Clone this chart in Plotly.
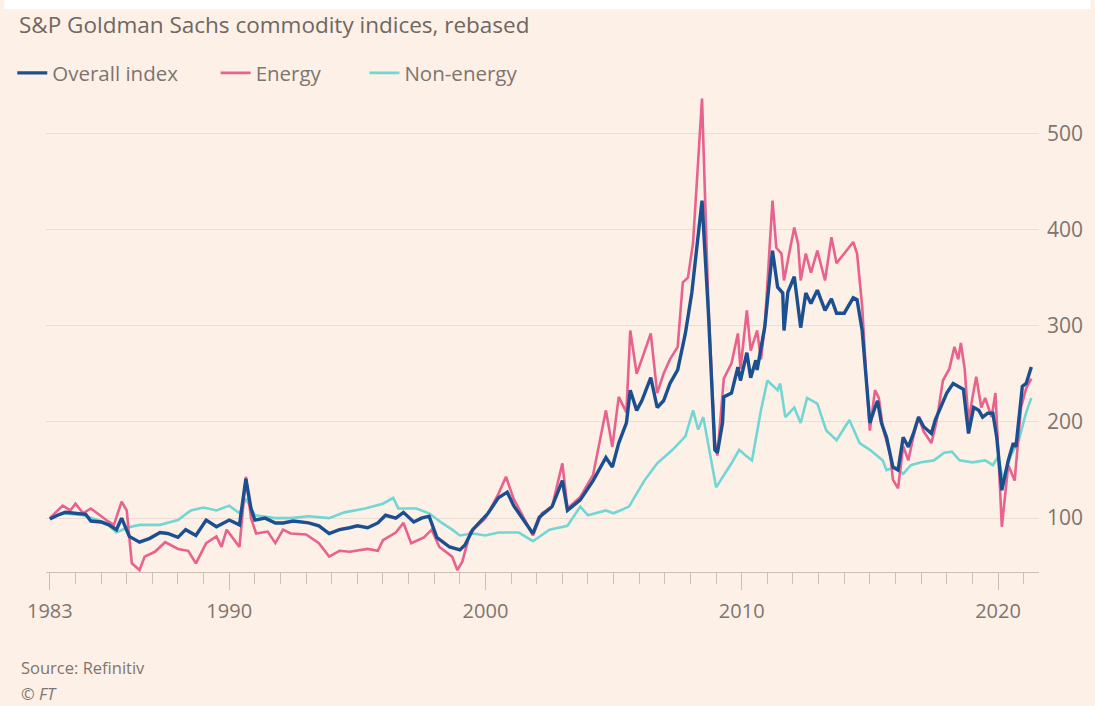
import plotly.graph_objects as go

# S&P Goldman Sachs commodity indices, rebased (1983 = 100)
overall_year = [
    1983.0, 1983.3, 1983.6, 1984.0, 1984.4, 1984.6, 1985.0, 1985.3, 1985.6, 1985.8,
    1986.1, 1986.5, 1986.9, 1987.3, 1987.6, 1988.0, 1988.3, 1988.7, 1989.1, 1989.5,
    1990.0, 1990.4, 1990.65, 1990.85, 1991.0, 1991.4, 1991.8, 1992.1, 1992.5, 1993.1,
    1993.5, 1993.9, 1994.3, 1994.7, 1995.0, 1995.4, 1995.8, 1996.1, 1996.5, 1996.8,
    1997.2, 1997.5, 1997.8, 1998.1, 1998.6, 1999.0, 1999.2, 1999.5, 2000.1, 2000.5,
    2000.85, 2001.1, 2001.5, 2001.85, 2002.1, 2002.6, 2003.0, 2003.2, 2003.7, 2004.2,
    2004.7, 2004.95, 2005.2, 2005.5, 2005.65, 2005.9, 2006.1, 2006.45, 2006.7, 2006.95,
    2007.2, 2007.5, 2007.8, 2008.05, 2008.45, 2008.7, 2008.95, 2009.05, 2009.25, 2009.3,
    2009.6, 2009.85, 2009.95, 2010.2, 2010.35, 2010.55, 2010.6, 2010.9, 2011.2, 2011.4,
    2011.6, 2011.65, 2011.8, 2012.05, 2012.3, 2012.5, 2012.7, 2012.95, 2013.25, 2013.5,
    2013.7, 2014.0, 2014.35, 2014.5, 2014.7, 2014.85, 2015.0, 2015.2, 2015.3, 2015.45,
    2015.65, 2015.9, 2016.1, 2016.3, 2016.5, 2016.7, 2016.9, 2017.1, 2017.4, 2017.55,
    2017.85, 2018.0, 2018.25, 2018.45, 2018.65, 2018.85, 2019.05, 2019.25, 2019.4, 2019.6,
    2019.8, 2019.95, 2020.15, 2020.4, 2020.6, 2020.7, 2020.95, 2021.1, 2021.3,
]
overall_value = [
    99, 103, 106, 105, 104, 97, 96, 93, 88, 100,
    81, 75, 79, 85, 84, 80, 88, 82, 98, 91,
    98, 93, 141, 110, 98, 100, 95, 95, 97, 95,
    92, 84, 88, 90, 92, 90, 95, 103, 100, 106,
    96, 100, 102, 80, 70, 67, 72, 88, 105, 121,
    127, 113, 98, 84, 101, 112, 139, 108, 119, 139,
    163, 153, 178, 199, 233, 212, 222, 246, 215, 222,
    240, 254, 292, 334, 430, 313, 171, 168, 199, 226,
    230, 257, 243, 272, 246, 264, 254, 299, 378, 340,
    334, 295, 335, 351, 298, 334, 323, 337, 316, 328,
    313, 313, 329, 327, 295, 246, 199, 215, 222, 199,
    184, 153, 150, 184, 174, 188, 205, 195, 188, 202,
    222, 230, 240, 237, 234, 188, 215, 212, 205, 209,
    209, 184, 129, 160, 178, 174, 237, 240, 257,
]

energy_year = [
    1983.0, 1983.5, 1983.8, 1984.0, 1984.3, 1984.6, 1985.2, 1985.5, 1985.8, 1986.0,
    1986.2, 1986.5, 1986.7, 1987.1, 1987.5, 1988.0, 1988.4, 1988.7, 1989.1, 1989.5,
    1989.7, 1989.9, 1990.4, 1990.65, 1990.85, 1991.05, 1991.5, 1991.8, 1992.1, 1992.4,
    1993.0, 1993.5, 1993.9, 1994.3, 1994.7, 1995.4, 1995.8, 1996.0, 1996.5, 1996.8,
    1997.1, 1997.6, 1997.9, 1998.2, 1998.7, 1998.9, 1999.1, 1999.4, 2000.0, 2000.5,
    2000.8, 2001.1, 2001.5, 2001.85, 2002.2, 2002.6, 2003.0, 2003.2, 2003.7, 2004.2,
    2004.7, 2004.95, 2005.2, 2005.5, 2005.65, 2005.9, 2006.1, 2006.45, 2006.7, 2006.95,
    2007.2, 2007.5, 2007.7, 2007.9, 2008.1, 2008.45, 2008.7, 2008.95, 2009.05, 2009.3,
    2009.6, 2009.85, 2009.95, 2010.2, 2010.35, 2010.6, 2010.75, 2010.9, 2011.2, 2011.35,
    2011.55, 2011.65, 2011.85, 2012.05, 2012.2, 2012.3, 2012.5, 2012.7, 2012.95, 2013.25,
    2013.5, 2013.7, 2014.0, 2014.35, 2014.5, 2014.7, 2014.85, 2015.0, 2015.2, 2015.35,
    2015.5, 2015.8, 2015.9, 2016.1, 2016.3, 2016.5, 2016.7, 2016.9, 2017.1, 2017.4,
    2017.6, 2017.85, 2018.1, 2018.3, 2018.45, 2018.55, 2018.7, 2018.85, 2019.0, 2019.15,
    2019.35, 2019.5, 2019.75, 2019.9, 2020.15, 2020.4, 2020.65, 2020.9, 2021.1, 2021.3,
]
energy_value = [
    100, 113, 108, 115, 105, 110, 98, 93, 117, 108,
    53, 46, 60, 65, 75, 68, 66, 53, 74, 81,
    70, 88, 70, 143, 100, 84, 86, 74, 88, 84,
    83, 74, 60, 66, 65, 68, 66, 77, 85, 95,
    74, 80, 88, 70, 60, 46, 55, 85, 100, 125,
    143, 120, 100, 82, 105, 112, 157, 110, 122, 145,
    212, 174, 226, 210, 295, 250, 265, 292, 230, 250,
    265, 278, 345, 350, 386, 536, 320, 180, 165, 245,
    261, 292, 255, 316, 274, 295, 265, 300, 430, 381,
    375, 347, 375, 402, 385, 347, 375, 355, 378, 347,
    392, 365, 375, 387, 375, 320, 250, 191, 233, 225,
    195, 165, 140, 131, 175, 160, 185, 205, 190, 178,
    200, 243, 255, 278, 265, 282, 255, 200, 225, 247,
    215, 225, 205, 230, 91, 155, 139, 215, 235, 245,
]

non_energy_year = [
    1983.0, 1983.5, 1984.3, 1985.2, 1985.6, 1986.0, 1986.5, 1987.3, 1988.0, 1988.5,
    1989.0, 1989.5, 1990.0, 1990.4, 1990.65, 1991.0, 1991.8, 1992.4, 1993.1, 1993.9,
    1994.5, 1995.3, 1996.0, 1996.4, 1996.6, 1997.3, 1997.8, 1998.3, 1998.7, 1999.0,
    1999.5, 2000.0, 2000.5, 2001.3, 2001.85, 2002.5, 2003.2, 2003.7, 2004.0, 2004.7,
    2005.0, 2005.6, 2006.2, 2006.7, 2007.3, 2007.8, 2008.1, 2008.3, 2008.5, 2008.8,
    2009.0, 2009.6, 2009.9, 2010.2, 2010.4, 2010.75, 2011.0, 2011.4, 2011.5, 2011.7,
    2012.05, 2012.3, 2012.55, 2012.95, 2013.3, 2013.7, 2014.2, 2014.6, 2015.0, 2015.5,
    2015.65, 2016.0, 2016.3, 2016.6, 2017.0, 2017.5, 2017.9, 2018.2, 2018.5, 2019.0,
    2019.5, 2019.8, 2020.0, 2020.2, 2020.5, 2020.8, 2021.1, 2021.3,
]
non_energy_value = [
    100, 105, 103, 95, 85, 90, 93, 93, 98, 108,
    111, 108, 113, 105, 120, 103, 100, 100, 102, 100,
    106, 110, 115, 121, 110, 110, 105, 95, 88, 82,
    84, 82, 85, 85, 76, 88, 92, 112, 103, 108,
    105, 112, 139, 157, 171, 185, 212, 192, 205, 160,
    132, 157, 171, 164, 160, 212, 243, 233, 240, 205,
    215, 199, 225, 219, 191, 181, 202, 178, 171, 160,
    150, 153, 146, 155, 158, 160, 168, 169, 160, 158,
    160, 155, 164, 140, 165, 180, 210, 225,
]

year_ticks = [1983, 1990, 2000, 2010, 2020]
year_labels = ["1983", "1990", "2000", "2010", "2020"]
value_ticks = [100, 200, 300, 400, 500]

BG = "#fdf0e6"
FONT = "Open Sans"
GREY_TEXT = "#7d756f"
TITLE_TEXT = "#6e6762"
AXIS_GREY = "#cbc0b6"
GRID = "#eaded4"

W, H = 1095, 706
L, R, T, B = 42, 1043, 90, 572  # plot area in pixels


def px_x(px):
    return (px - L) / (R - L)


def px_y(py):
    return (B - py) / (B - T)


fig = go.Figure()

fig.add_trace(go.Scatter(
    x=non_energy_year, y=non_energy_value, mode="lines", name="Non-energy",
    line=dict(color="#72d6d5", width=2.6), legend="legend3",
))
fig.add_trace(go.Scatter(
    x=energy_year, y=energy_value, mode="lines", name="Energy",
    line=dict(color="#e8628d", width=2.6), legend="legend2",
))
fig.add_trace(go.Scatter(
    x=overall_year, y=overall_value, mode="lines", name="Overall index",
    line=dict(color="#1b4f8f", width=3.4), legend="legend",
))

legend_common = dict(
    orientation="h", yanchor="middle", xanchor="left",
    bgcolor="rgba(0,0,0,0)", borderwidth=0,
    font=dict(family=FONT, size=20.5, color=GREY_TEXT),
)

fig.update_layout(
    width=W, height=H, autosize=False,
    paper_bgcolor=BG, plot_bgcolor=BG,
    margin=dict(l=L, r=W - R, t=T, b=H - B, pad=0),
    font=dict(family=FONT, color=GREY_TEXT),
    title=dict(
        text="S&P Goldman Sachs commodity indices, rebased",
        font=dict(family=FONT, size=22.5, color=TITLE_TEXT),
        xref="container", yref="container",
        x=19 / W, xanchor="left", y=1 - 25 / H, yanchor="middle",
    ),
    showlegend=True,
    legend=dict(x=px_x(8), y=px_y(73), **legend_common),
    legend2=dict(x=px_x(213), y=px_y(73), **legend_common),
    legend3=dict(x=px_x(363), y=px_y(73), **legend_common),
    xaxis=dict(
        range=[1982.85, 2021.6],
        showgrid=False, zeroline=False,
        showline=True, linecolor=AXIS_GREY, linewidth=1,
        tickmode="array", tickvals=year_ticks, ticktext=year_labels,
        ticks="outside", ticklen=17, tickwidth=1, tickcolor=AXIS_GREY,
        minor=dict(tickmode="linear", tick0=1983, dtick=1,
                   ticks="outside", ticklen=11, tickwidth=1,
                   tickcolor=AXIS_GREY, showgrid=False),
        ticklabelstandoff=4,
        tickfont=dict(family=FONT, size=20, color=GREY_TEXT),
        fixedrange=True,
    ),
    yaxis=dict(
        range=[44, 545], side="right",
        tickmode="array", tickvals=value_ticks,
        showgrid=True, gridcolor=GRID, gridwidth=1.2,
        zeroline=False, showline=False, ticks="",
        ticklabelstandoff=7,
        tickfont=dict(family=FONT, size=21, color=GREY_TEXT),
        fixedrange=True,
    ),
    annotations=[
        dict(text="Source: Refinitiv", xref="paper", yref="paper",
             x=px_x(15), y=px_y(667), xanchor="left", yanchor="middle",
             showarrow=False, font=dict(family=FONT, size=16.5, color=GREY_TEXT)),
        dict(text="© <i>FT</i>", xref="paper", yref="paper",
             x=px_x(15), y=px_y(693), xanchor="left", yanchor="middle",
             showarrow=False, font=dict(family=FONT, size=16.5, color=GREY_TEXT)),
    ],
    shapes=[
        dict(type="rect", xref="paper", yref="paper",
             x0=px_x(0), x1=px_x(W), y0=px_y(9), y1=px_y(0),
             fillcolor="#ffffff", line=dict(width=0), layer="above"),
    ],
)

fig.write_html("out.html")
